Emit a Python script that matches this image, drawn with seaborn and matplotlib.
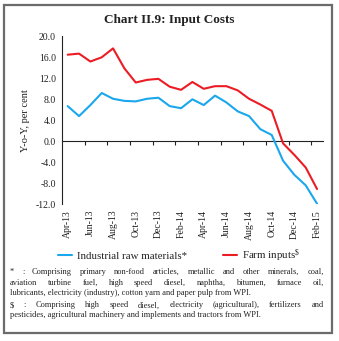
import matplotlib
matplotlib.use("Agg")
import matplotlib.pyplot as plt
from matplotlib.patches import Rectangle
import seaborn as sns
import pandas as pd
import numpy as np

months = ["Apr-13", "May-13", "Jun-13", "Jul-13", "Aug-13", "Sep-13", "Oct-13", "Nov-13",
          "Dec-13", "Jan-14", "Feb-14", "Mar-14", "Apr-14", "May-14", "Jun-14", "Jul-14",
          "Aug-14", "Sep-14", "Oct-14", "Nov-14", "Dec-14", "Jan-15", "Feb-15"]
industrial = [6.7, 4.8, 6.9, 9.2, 8.1, 7.7, 7.6, 8.1, 8.3, 6.7, 6.3, 8.0, 6.9, 8.7, 7.4, 5.7,
              4.8, 2.3, 1.2, -3.7, -6.4, -8.4, -11.9]
farm = [16.5, 16.7, 15.2, 16.0, 17.7, 13.9, 11.2, 11.7, 11.9, 10.4, 9.8, 11.3, 10.0, 10.5,
        10.5, 9.7, 8.1, 7.0, 5.8, -0.4, -2.6, -5.0, -9.1]
series_names = ["Industrial raw materials*", r"Farm inputs$^{\$}$"]
yticks = [-12, -8, -4, 0, 4, 8, 12, 16, 20]
title = "Chart II.9: Input Costs"
ylabel = "Y-o-Y, per cent"
# (text, justified?)
notes = [
    [("* : Comprising primary non-food articles, metallic and other minerals, coal,", True),
     ("aviation turbine fuel, high speed diesel, naphtha, bitumen, furnace oil,", True),
     ("lubricants, electricity (industry), cotton yarn and paper pulp from WPI.", False)],
    [("$ : Comprising high speed diesel, electricity (agricultural), fertilizers and", True),
     ("pesticides, agricultural machinery and implements and tractors from WPI.", False)],
]

sns.set_style("white")
plt.rcParams["font.family"] = ["Liberation Serif", "DejaVu Serif"]
plt.rcParams["mathtext.fontset"] = "custom"
plt.rcParams["mathtext.rm"] = "Liberation Serif"
plt.rcParams["mathtext.it"] = "Liberation Serif:italic"

TXT = "#222222"
df = pd.DataFrame({
    "idx": list(range(len(months))) * 2,
    "value": industrial + farm,
    "series": [series_names[0]] * len(months) + [series_names[1]] * len(months),
})

fig = plt.figure(figsize=(3.39, 3.41), dpi=100)
ax = fig.add_axes([0.183, 0.401, 0.769, 0.4925])
sns.lineplot(data=df, x="idx", y="value", hue="series",
             palette=["#1AA7EC", "#EC1C24"], linewidth=1.5, ax=ax, legend=True)

ax.set_xlim(-0.5, len(months) - 0.5)
ax.set_ylim(-12, 20)
ax.set_yticks(yticks)
ax.set_yticklabels([f"{v:.1f}" for v in yticks], fontsize=7, color=TXT)
ax.set_xticks(range(0, len(months), 2))
ax.set_xticklabels(months[::2], rotation=90, fontsize=7, color=TXT)
ax.tick_params(axis="x", length=0, pad=4)
ax.tick_params(axis="y", length=3, width=0.8, color="#222222", pad=1.5, direction="out")
ax.set_xlabel("")
ax.set_ylabel(ylabel, fontsize=7.5, color=TXT, labelpad=4)
for s in ["top", "right", "bottom"]:
    ax.spines[s].set_visible(False)
ax.spines["left"].set_color("#222222")
ax.spines["left"].set_linewidth(0.8)

sec = ax.secondary_xaxis(0, transform=ax.transData)
sec.set_xticks(np.arange(1.5, len(months) - 1, 2))
sec.set_xticklabels([])
sec.tick_params(length=3, width=0.8, color="#222222", direction="out")
sec.spines["bottom"].set_color("#222222")
sec.spines["bottom"].set_linewidth(0.8)

handles, labels = ax.get_legend_handles_labels()
ax.legend(handles, labels, loc="center", bbox_to_anchor=(0.528, 0.251),
          bbox_transform=fig.transFigure, ncol=2, frameon=False, fontsize=7.8,
          handlelength=1.3, handletextpad=0.45, columnspacing=3.3, labelcolor=TXT)

fig.text(0.5, 0.94, title, ha="center", va="center", fontsize=9.5,
         fontweight="bold", color=TXT)

# footnotes, justified between x0 and x1 (figure fraction)
fs = 6.0
x0, x1 = 10 / 339, 323.5 / 339
fig.canvas.draw()
renderer = fig.canvas.get_renderer()
W = fig.get_figwidth() * fig.dpi
line_ys = [[0.2023, 0.170, 0.1408], [0.1046, 0.0753]]
for para, ys in zip(notes, line_ys):
    for (line, just), yy in zip(para, ys):
        if not just:
            fig.text(x0, yy, line, fontsize=fs, color=TXT, va="center", ha="left")
            continue
        words = line.split(" ")
        arts = [fig.text(x0, yy, w, fontsize=fs, color=TXT, va="center", ha="left")
                for w in words]
        widths = [a.get_window_extent(renderer).width / W for a in arts]
        gap = ((x1 - x0) - sum(widths)) / (len(words) - 1)
        x = x0
        for a, wd in zip(arts, widths):
            a.set_x(x)
            x += wd + gap

fig.patches.append(Rectangle((0.0118, 0.022), 0.969, 0.963, transform=fig.transFigure,
                             fill=False, edgecolor="#6b6b6b", linewidth=1.6))

fig.savefig("out.png", dpi=100)
